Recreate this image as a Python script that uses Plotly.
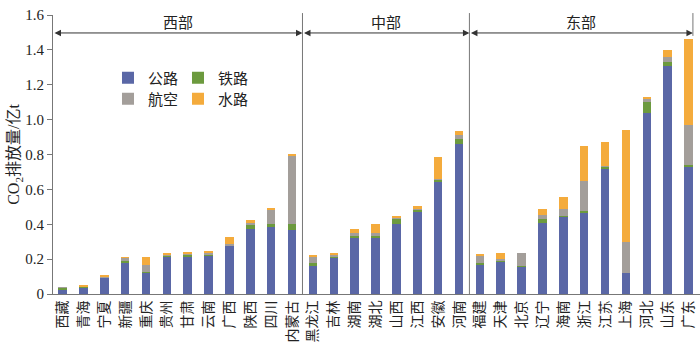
import plotly.graph_objects as go

provinces = ["西藏", "青海", "宁夏", "新疆", "重庆", "贵州", "甘肃", "云南", "广西", "陕西", "四川", "内蒙古",
             "黑龙江", "吉林", "湖南", "湖北", "山西", "江西", "安徽", "河南",
             "福建", "天津", "北京", "辽宁", "海南", "浙江", "江苏", "上海", "河北", "山东", "广东"]

road = [0.025, 0.035, 0.095, 0.175, 0.122, 0.217, 0.210, 0.221, 0.276, 0.371, 0.389, 0.367,
        0.166, 0.212, 0.319, 0.323, 0.401, 0.474, 0.644, 0.858,
        0.172, 0.185, 0.157, 0.409, 0.443, 0.466, 0.719, 0.122, 1.036, 1.309, 0.730]
rail = [0.010, 0.006, 0.002, 0.013, 0.004, 0.003, 0.017, 0.006, 0.003, 0.022, 0.011, 0.034,
        0.010, 0.003, 0.015, 0.015, 0.031, 0.011, 0.013, 0.031,
        0.008, 0.004, 0.005, 0.019, 0.004, 0.010, 0.011, 0.001, 0.063, 0.023, 0.012]
air = [0.003, 0.004, 0.003, 0.020, 0.038, 0.009, 0.004, 0.011, 0.006, 0.019, 0.080, 0.392,
       0.034, 0.010, 0.018, 0.010, 0.005, 0.004, 0.003, 0.021,
       0.038, 0.014, 0.073, 0.025, 0.038, 0.172, 0.006, 0.178, 0.017, 0.027, 0.227]
water = [0.000, 0.008, 0.010, 0.003, 0.046, 0.009, 0.009, 0.011, 0.040, 0.010, 0.015, 0.008,
         0.012, 0.010, 0.021, 0.055, 0.008, 0.016, 0.126, 0.023,
         0.009, 0.030, 0.000, 0.034, 0.071, 0.201, 0.137, 0.640, 0.012, 0.040, 0.491]

series = [("公路", road, "#5a67a6", "legend"),
          ("铁路", rail, "#6c9a3e", "legend"),
          ("航空", air, "#a39e9a", "legend2"),
          ("水路", water, "#f4ab3c", "legend2")]

regions = ["西部", "中部", "东部"]
region_bounds = [(-0.455, 11.5), (11.5, 19.5), (19.5, 30.21)]

y_ticks = [0, 0.2, 0.4, 0.6, 0.8, 1.0, 1.2, 1.4, 1.6]
y_ticktext = ["0", "0.2", "0.4", "0.6", "0.8", "1.0", "1.2", "1.4", "1.6"]

FONT = "Liberation Serif, Noto Sans CJK SC, serif"
TXT = "#222222"

x_idx = list(range(len(provinces)))

fig = go.Figure()
for name, vals, color, lg in series:
    fig.add_trace(go.Bar(x=x_idx, y=vals, name=name, marker=dict(color=color, line=dict(width=0)),
                         legend=lg))

# region dividers and arrows
shapes = []
annotations = []
for (a, b), lab in zip(region_bounds, regions):
    annotations.append(dict(x=b, y=1.497, xref="x", yref="y", ax=a, ay=1.497, axref="x", ayref="y",
                            text="", showarrow=True, arrowside="end+start", arrowhead=2,
                            arrowsize=1.3, arrowwidth=1, arrowcolor="#333333", standoff=0, startstandoff=0))
    annotations.append(dict(x=(a + b) / 2, y=1.56, xref="x", yref="y", text=lab, showarrow=False,
                            font=dict(family="Noto Sans CJK SC", size=15, color=TXT)))
for xb in [11.5, 19.5]:
    shapes.append(dict(type="line", xref="x", yref="paper", x0=xb, x1=xb, y0=0, y1=1.007,
                       line=dict(color="#777777", width=1)))
shapes.append(dict(type="line", xref="x", yref="paper", x0=30.21, x1=30.21, y0=0.925, y1=1.007,
                   line=dict(color="#777777", width=1)))

fig.update_layout(
    width=700, height=350,
    margin=dict(l=53, r=0, t=15, b=56),
    barmode="stack", bargap=0.59,
    plot_bgcolor="white", paper_bgcolor="white",
    font=dict(family=FONT, size=14, color=TXT),
    shapes=shapes, annotations=annotations,
    legend=dict(orientation="h", x=0.085, y=0.774, xanchor="left", yanchor="middle",
                entrywidth=25, entrywidthmode="pixels", itemwidth=30,
                font=dict(family="Noto Sans CJK SC", size=15, color=TXT), bgcolor="rgba(0,0,0,0)",
                traceorder="normal"),
    legend2=dict(orientation="h", x=0.085, y=0.699, xanchor="left", yanchor="middle",
                 entrywidth=25, entrywidthmode="pixels", itemwidth=30,
                 font=dict(family="Noto Sans CJK SC", size=15, color=TXT), bgcolor="rgba(0,0,0,0)",
                 traceorder="normal"),
)

fig.update_xaxes(range=[-0.455, 30.55], tickmode="array", tickvals=x_idx, ticktext=provinces,
                 tickangle=-90, showline=True, linecolor="#777777", linewidth=1, ticks="",
                 showgrid=False, zeroline=False,
                 tickfont=dict(family="Noto Sans CJK SC", size=14, color=TXT))
fig.update_yaxes(range=[0, 1.6], tickmode="array", tickvals=y_ticks, ticktext=y_ticktext,
                 showline=True, linecolor="#777777", linewidth=1, ticks="outside", ticklen=5,
                 tickcolor="#777777", showgrid=False, zeroline=False,
                 tickfont=dict(family="Liberation Serif", size=15, color=TXT),
                 title=dict(text="CO<sub>2</sub>排放量/亿t", standoff=1,
                            font=dict(family="Liberation Serif, Noto Sans CJK SC", size=16, color=TXT)))

fig.write_html("out.html")
